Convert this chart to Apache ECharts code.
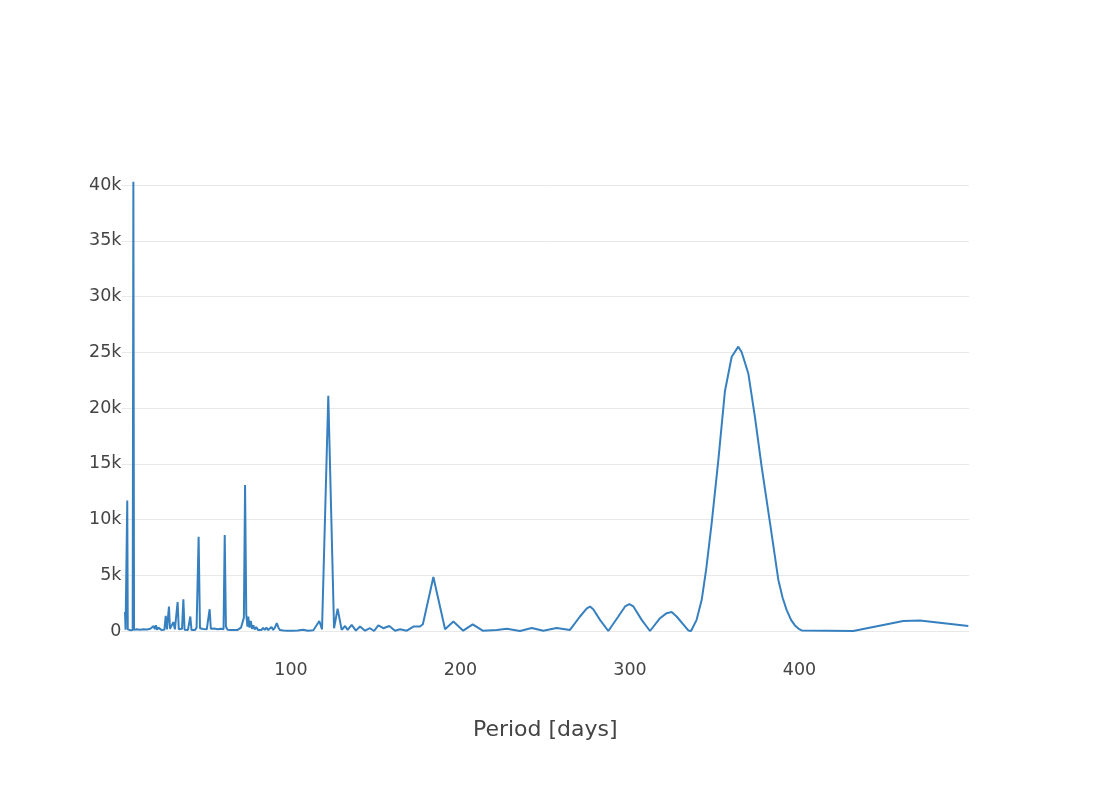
<!DOCTYPE html>
<html>
<head>
<meta charset="utf-8">
<script src="https://cdn.jsdelivr.net/npm/echarts@6/dist/echarts.min.js"></script>
<style>
  html, body { margin: 0; padding: 0; background: #fff; }
  #chart { width: 1103px; height: 790px; }
</style>
</head>
<body>
<div id="chart"></div>
<script>
// periodogram: period (days) vs power
var period = [
  2.06, 2.4, 2.8, 3.1, 3.4, 3.7, 4.2, 4.8, 5.4, 6.0, 6.6, 7.0, 7.4, 8.2, 9.0, 10.0,
  11.0, 12.0, 13.0, 14.0, 15.0, 16.0, 17.0, 18.0, 19.0, 19.6, 20.3, 21.0, 21.8, 22.7,
  23.5, 24.3, 25.3, 26.1, 26.8, 27.4, 28.0, 28.6, 29.4, 30.6, 31.5, 32.3, 33.1, 33.8,
  34.8, 35.7, 36.5, 37.2, 38.2, 39.2, 40.0, 40.6, 41.3, 42.3, 43.3, 44.3, 45.5, 46.3,
  47.2, 48.2, 49.2, 50.3, 51.3, 52.0, 52.7, 53.6, 54.6, 55.6, 56.6, 57.6, 58.6, 59.6,
  60.2, 60.9, 61.6, 62.5, 63.5, 64.5, 65.5, 66.5, 67.5, 68.5, 69.5, 70.5, 71.4, 72.2,
  72.9, 73.6, 74.3, 74.8, 75.5, 76.3, 77.0, 77.8, 78.6, 79.5, 80.5, 81.5, 82.5, 83.5,
  84.5, 85.5, 86.5, 87.5, 88.5, 89.5, 90.5, 91.6, 92.6, 93.5, 95.5, 98.0, 101.0, 104.0,
  107.0, 110.0, 113.2, 116.7, 118.3, 122.0, 125.4, 127.5, 129.9, 131.9, 133.4, 135.8,
  138.3, 140.7, 143.7, 146.6, 149.0, 151.5, 154.5, 158.0, 161.4, 164.3, 168.3, 172.2,
  176.1, 177.8, 184.0, 190.9, 195.8, 201.6, 207.2, 213.1, 221.4, 227.3, 235.1, 242.0,
  248.9, 256.7, 264.6, 270.5, 274.4, 276.4, 278.3, 282.3, 287.2, 293.1, 297.1, 299.6,
  302.0, 306.9, 311.8, 317.7, 321.6, 324.6, 327.5, 334.4, 336.0, 339.3, 342.3, 345.0,
  348.2, 352.1, 356.0, 360.0, 363.9, 365.9, 369.8, 373.7, 377.7, 382.6, 387.5, 390.0,
  392.4, 395.0, 397.3, 399.5, 401.3, 431.7, 461.2, 471.0, 499.6
];
var power = [
  1700, 120, 60, 200, 11700, 150, 40, 120, 60, 150, 80, 40300, 100, 60, 150, 80,
  120, 50, 160, 70, 130, 60, 200, 100, 450, 150, 520, 120, 300, 450,
  100, 200, 120, 1350, 150, 300, 2200, 200, 100, 800, 150, 200, 2600, 150,
  100, 200, 2850, 120, 200, 100, 150, 1300, 100, 200, 80, 300, 8450, 250,
  100, 180, 60, 150, 300, 1950, 200, 100, 220, 80, 150, 90, 200, 350,
  150, 8600, 400, 120, 250, 100, 180, 80, 200, 100, 150, 300, 200, 1200,
  13100, 1500, 400, 1300, 300, 900, 200, 500, 150, 350, 100, 250, 80, 280,
  100, 300, 80, 200, 350, 100, 300, 700, 300, 80, 50, 30, 20, 40,
  120, 30, 60, 900, 150, 21100, 250, 2000, 100, 450, 100, 550,
  30, 400, 30, 250, 0, 500, 250, 450, 30, 150, 30, 400,
  400, 600, 4850, 150, 850, 30, 600, 30, 100, 200, 0, 270,
  30, 270, 100, 1300, 2000, 2200, 1950, 1000, 0, 1300, 2200, 2400,
  2200, 1000, 0, 1150, 1600, 1700, 1300, 50, 0, 1000, 2800, 5600,
  9700, 15300, 21500, 24600, 25500, 25000, 23100, 19200, 14700, 9700, 4600, 3000,
  1900, 1000, 500, 200, 50, 0, 900, 950, 450
];
var xTicks = [100, 200, 300, 400];

var chart = echarts.init(document.getElementById('chart'));
var font = 'DejaVu Sans, Verdana, sans-serif';

var option = {
    backgroundColor: '#fff',
    animation: false,
    grid: { left: 121.5, right: 134, top: 185, bottom: 159 },
    xAxis: {
        type: 'value',
        min: 0,
        max: 500,
        interval: 100,
        name: 'Period [days]',
        nameLocation: 'middle',
        nameGap: 88,
        nameTextStyle: { fontFamily: font, fontSize: 22, color: '#444' },
        axisLine: { show: false },
        axisTick: { show: false },
        splitLine: { show: false },
        axisLabel: {
            fontFamily: font, fontSize: 17.5, color: '#444', margin: 30,
            formatter: function (v) { return xTicks.indexOf(v) >= 0 ? String(v) : ''; }
        }
    },
    yAxis: {
        type: 'value',
        min: 0,
        max: 40000,
        interval: 5000,
        axisLine: { show: false },
        axisTick: { show: false },
        splitLine: { lineStyle: { color: '#e8e8e8', width: 1 } },
        axisLabel: {
            fontFamily: font, fontSize: 17.5, color: '#444', margin: 0,
            formatter: function (v) { return v === 0 ? '0' : (v / 1000) + 'k'; }
        }
    },
    series: [{
        type: 'line',
        clip: false,
        showSymbol: false,
        lineStyle: { color: '#3780bf', width: 2 },
        itemStyle: { color: '#3780bf' },
        data: period.map(function (p, i) { return [p, power[i]]; })
    }]
};

chart.setOption(option);
</script>
</body>
</html>
